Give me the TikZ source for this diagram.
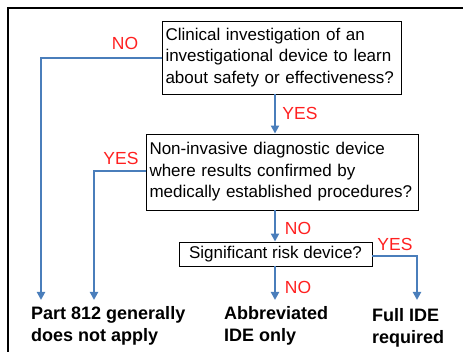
\documentclass[tikz,border=0pt]{standalone}
\usepackage{fontspec}
\setmainfont{Liberation Sans}
\usetikzlibrary{arrows.meta}
\definecolor{flowblue}{HTML}{4A7EBB}
\definecolor{lblred}{HTML}{FF2020}
\begin{document}
\begin{tikzpicture}[x=1pt,y=-1pt,
  qbox/.style={draw=black,line width=0.9pt,inner xsep=3.5pt,inner ysep=0pt,align=left,
    font=\fontsize{17}{21.5}\selectfont},
  flow/.style={draw=flowblue,line width=2.4pt},
  arr/.style={flow,-{Triangle[length=8pt,width=8pt]}},
  lbl/.style={text=lblred,font=\fontsize{17.5}{19}\selectfont,inner sep=0pt},
  outcome/.style={font=\fontsize{18}{22}\selectfont\bfseries,align=left,inner sep=0pt,anchor=north west}]
\useasboundingbox (0,0) rectangle (463,352);
\draw[line width=1.3pt] (8,360) -- (8,8) -- (470,8);
% boxes
\node[qbox,minimum width=239pt,minimum height=73pt,text width=232pt] (b1) at (281.5,57.5)
  {Clinical investigation of an\\investigational device to learn\\about safety or effectiveness?};
\node[qbox,minimum width=272pt,minimum height=76pt,text width=265pt] (b2) at (282,172)
  {Non-invasive diagnostic device\\where results confirmed by\\medically established procedures?};
\node[qbox,minimum width=193pt,minimum height=24pt,inner xsep=2pt,align=center] (b3) at (275.5,254)
  {Significant risk device?};
% outcomes
\node[outcome] (o1) at (31,306) {Part 812 generally\\does not apply};
\node[outcome] (o2) at (224,306) {Abbreviated\\IDE only};
\node[outcome] (o3) at (372,308) {Full IDE\\required};
% helper coordinates
\coordinate (xc) at (275,0);
\coordinate (xl1) at (41,0);
\coordinate (xl2) at (94,0);
\coordinate (xr) at (417,0);
\coordinate (ybot) at (0,300);
\coordinate (y1) at (0,58);
\coordinate (y2) at (0,171);
\coordinate (y3) at (0,256);
% connectors
\draw[arr] (b1.south -| xc) -- (b2.north -| xc);
\draw[arr] (b2.south -| xc) -- (b3.north -| xc);
\draw[arr] (b3.south -| xc) -- (xc |- ybot);
\draw[arr] (b1.west |- y1) -- (xl1 |- y1) -- (xl1 |- ybot);
\draw[arr] (b2.west |- y2) -- (xl2 |- y2) -- (xl2 |- ybot);
\draw[arr] (b3.east |- y3) -- (xr |- y3) -- (xr |- ybot);
% labels
\node[lbl] (n1) at (125,43) {NO};
\node[lbl] (y1l) at (300,113) {YES};
\node[lbl] (y2l) at (121,158) {YES};
\node[lbl] (n2) at (298,228) {NO};
\node[lbl] (y3l) at (395,244) {YES};
\node[lbl] (n3) at (298,287) {NO};
\end{tikzpicture}
\end{document}
